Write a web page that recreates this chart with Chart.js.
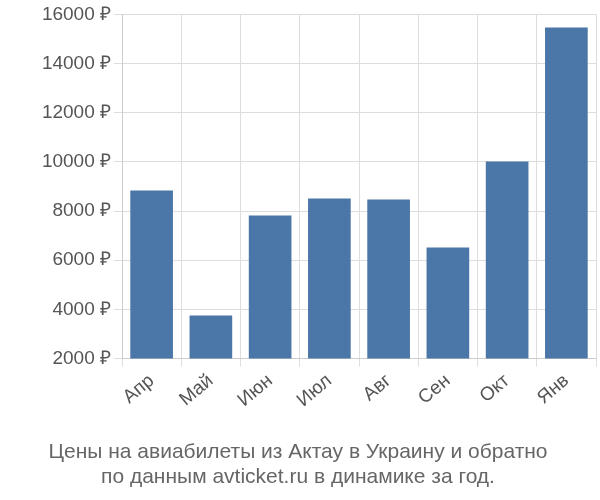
<!DOCTYPE html>
<html><head><meta charset="utf-8">
<script src="https://cdn.jsdelivr.net/npm/chart.js@4"></script>
<style>html,body{margin:0;padding:0;background:#fff}#w{width:600px;height:500px}</style>
</head><body><div id="w"><canvas id="c"></canvas></div>
<script>
const categories=["Апр","Май","Июн","Июл","Авг","Сен","Окт","Янв"];
const prices=[8840,3750,7820,8510,8470,6520,10020,15470];
const titleLines=["Цены на авиабилеты из Актау в Украину и обратно","по данным avticket.ru в динамике за год."];
new Chart(document.getElementById('c'),{
type:'bar',
data:{labels:categories,datasets:[{data:prices,backgroundColor:'#4a76a8',barPercentage:0.72,categoryPercentage:1}]},
options:{responsive:true,maintainAspectRatio:false,animation:false,
layout:{padding:{left:0,right:4,top:4,bottom:0}},
plugins:{legend:{display:false},tooltip:{enabled:false},
title:{display:true,position:'bottom',text:titleLines,color:'#666',font:{family:'Liberation Sans, Arial',size:21,weight:'normal'},padding:{top:6,bottom:10}}},
scales:{
x:{afterFit:s=>{s.height=75},grid:{color:'#ddd',offset:true},border:{color:'#ccc'},ticks:{color:'#555',font:{family:'Liberation Sans, Arial',size:19},maxRotation:40,minRotation:40}},
y:{afterFit:s=>{s.width=122},min:2000,max:16000,grid:{color:'#ddd'},border:{color:'#ccc'},ticks:{stepSize:2000,color:'#555',font:{family:'Liberation Sans, Arial',size:19},callback:v=>v+' ₽'}}
}}});
</script></body></html>
